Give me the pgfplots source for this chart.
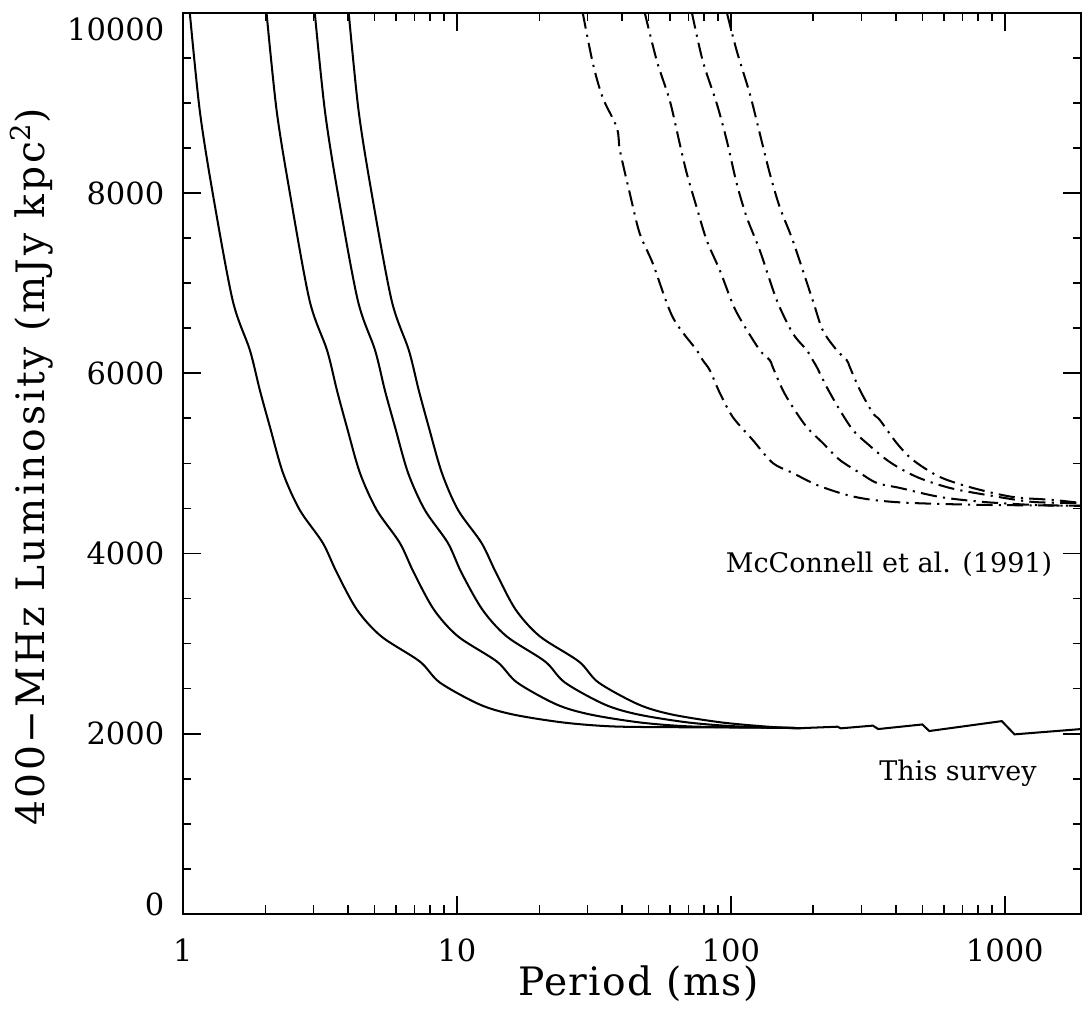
\documentclass[border=0pt]{standalone}
\usepackage{fontspec}
\setmainfont{DejaVu Serif}
\newfontfamily\ylabfont[LetterSpace=7]{DejaVu Serif}
\newfontfamily\xlabfont[LetterSpace=3.5]{DejaVu Serif}
\usepackage{pgfplots}
\pgfplotsset{compat=1.18}
\usetikzlibrary{calc}
\begin{document}
\begin{tikzpicture}
\begin{axis}[name=ax, scale only axis, width=332.6pt, height=333.7pt,
  xmode=log, xmin=1, xmax=1900, ymin=0, ymax=10000,
  xtick={1,10,100,1000}, xticklabels={1,10,100,1000},
  minor xtick={2,3,4,5,6,7,8,9,20,30,40,50,60,70,80,90,200,300,400,500,600,700,800,900},
  ytick={0,2000,4000,6000,8000,10000}, minor y tick num=3,
  yticklabels={\raisebox{3.7pt}{0},2000,4000,6000,8000,\raisebox{-6pt}{10000}},
  /pgf/number format/assume math mode=true,
  tick align=inside, major tick length=6.7pt, minor tick length=3.2pt,
  axis line style={line width=0.75pt},
  every tick/.style={black, line width=0.6pt},
  tick label style={font=\fontsize{11.3}{13}\selectfont, inner sep=0pt},
  xticklabel style={anchor=center, yshift=-13.3pt},
  yticklabel style={anchor=base east, xshift=-6.7pt, yshift=-4.12pt},
  xlabel={Period (ms)},
  ylabel={400−MHz Luminosity (mJy kpc\textsuperscript{2})},
  xlabel style={font=\fontsize{14.5}{16}\xlabfont, inner sep=0pt, at={(axis description cs:0.507,-0.0776)}, anchor=center},
  ylabel style={font=\fontsize{14.5}{16}\ylabfont, inner sep=0pt, at={(axis description cs:-0.168,0.496)}, anchor=center},
  clip=true,
]
% This survey (solid)
\addplot[black, line width=0.75pt, smooth, tension=0.5] coordinates {
(1.06,10000)(1.153,8911)(1.286,7993)(1.52,6808)(1.757,6255)(1.91,5812)(2.08,5402)(2.32,4893)(2.67,4483)(3.24,4118)(3.65,3786)(4.32,3376)(5.3,3080)(7.33,2801)(8.67,2568)(12.1,2325)(16.0,2214)(24.4,2125)(37.1,2081)(65.2,2072)(120,2068)(180,2062)};
\addplot[black, line width=0.75pt, smooth, tension=0.5] coordinates {
(2.02,10000)(2.20,8911)(2.46,7993)(2.90,6808)(3.36,6255)(3.65,5812)(3.97,5402)(4.43,4893)(5.10,4483)(6.19,4118)(6.97,3786)(8.25,3376)(10.1,3080)(14.0,2801)(16.6,2568)(23.1,2325)(30.6,2214)(46.6,2125)(70.9,2081)(124.5,2070)(180,2062)};
\addplot[black, line width=0.75pt, smooth, tension=0.5] coordinates {
(3.03,10000)(3.30,8911)(3.68,7993)(4.35,6808)(5.03,6255)(5.46,5812)(5.95,5402)(6.64,4893)(7.64,4483)(9.27,4118)(10.4,3786)(12.4,3376)(15.2,3080)(21.0,2801)(24.8,2568)(34.6,2325)(45.8,2214)(69.8,2125)(106.1,2081)(180,2062)};
\addplot[black, line width=0.75pt, smooth, tension=0.5] coordinates {
(4.03,10000)(4.38,8911)(4.89,7993)(5.78,6808)(6.68,6255)(7.26,5812)(7.90,5402)(8.82,4893)(10.1,4483)(12.3,4118)(13.9,3786)(16.4,3376)(20.1,3080)(27.9,2801)(32.9,2568)(46.0,2325)(60.8,2214)(92.7,2125)(141,2075)(180,2062)};
% common tail
\addplot[black, line width=0.75pt] coordinates {
(180,2062)(245,2078)(252,2060)(330,2090)(345,2052)(500,2103)(530,2030)(975,2140)(1085,1993)(1900,2052)};
% McConnell et al. (dash-dot)
\addplot[black, line width=0.75pt, smooth, tension=0.5, dash pattern=on 6pt off 2.3pt on 0.8pt off 2.3pt] coordinates {
(28.8,10000)(31.4,9432)(34.1,9055)(38.4,8723)(39.4,8469)(42.8,7993)(46.5,7550)(51.9,7218)(61.4,6620)(75.1,6255)(79.0,6144)(83.8,6033)(91.2,5779)(101.7,5513)(120.3,5258)(142.2,5004)(168.3,4893)(206,4760)(265,4649)(330,4594)(450,4561)(832,4539)(1900,4530)};
\addplot[black, line width=0.75pt, smooth, tension=0.5, dash pattern=on 6pt off 2.3pt on 0.8pt off 2.3pt] coordinates {
(48.5,10000)(53.7,9465)(59.9,9022)(65.1,8546)(69.1,8214)(75.1,7838)(81.7,7472)(91.2,7140)(101.7,6764)(110.6,6553)(127.6,6255)(138.8,6144)(142.3,6066)(154.8,5812)(168.3,5624)(189.3,5402)(216.6,5225)(250,5037)(296,4893)(341,4782)(414,4727)(579,4627)(832,4572)(1265,4539)(1900,4528)};
\addplot[black, line width=0.75pt, smooth, tension=0.5, dash pattern=on 6pt off 2.3pt on 0.8pt off 2.3pt] coordinates {
(72.1,10000)(79.0,9465)(88.9,8989)(96.7,8579)(105.1,8103)(114.4,7727)(127.6,7362)(147.2,6808)(168.3,6443)(189.3,6255)(199.1,6144)(206.1,6066)(224,5845)(250,5590)(279,5369)(313,5225)(380,5015)(477,4849)(630,4727)(860,4649)(1265,4572)(1900,4560)};
\addplot[black, line width=0.75pt, smooth, tension=0.5, dash pattern=on 6pt off 2.3pt on 0.8pt off 2.3pt] coordinates {
(96.7,10000)(105.1,9576)(117.3,9100)(127.6,8657)(138.8,8214)(151.0,7838)(168.3,7472)(199.1,6808)(216.6,6476)(243.6,6255)(265,6144)(272,6066)(296,5812)(330,5557)(350,5480)(403,5225)(462,5037)(579,4849)(764,4727)(1069,4627)(1496,4594)(1900,4560)};
\node[anchor=base, font=\fontsize{10}{12}\selectfont] at (axis cs:378,3790) {McConnell et al. (1991)};
\node[anchor=base, font=\fontsize{10}{12}\selectfont] at (axis cs:675,1479) {This survey};
\end{axis}
\pgfresetboundingbox
\path ($(ax.south west)+(-67.7pt,-35pt)$) rectangle ($(ax.north east)+(0.3pt,4.7pt)$);
\end{tikzpicture}
\end{document}
